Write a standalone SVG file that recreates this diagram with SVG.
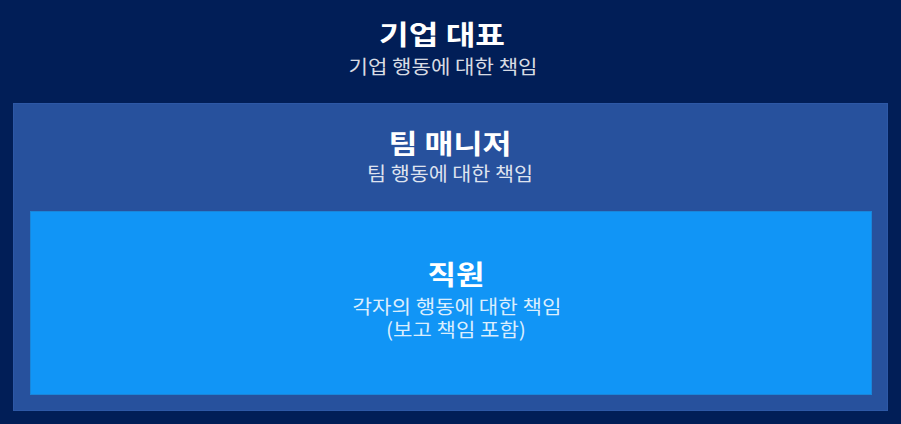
<svg xmlns="http://www.w3.org/2000/svg" width="901" height="424" viewBox="0 0 901 424">
<style>
.t{font-family:"Noto Sans CJK KR","Noto Sans",sans-serif;font-weight:700;font-size:27px;fill:#ffffff;text-anchor:middle}
.s{font-family:"Noto Sans CJK KR","Noto Sans",sans-serif;font-weight:400;font-size:19.5px;fill:#ffffff;fill-opacity:0.86;text-anchor:middle}
</style>
<rect x="0" y="0" width="901" height="424" fill="#011E57"/>
<g id="ceo">
<text class="t" x="442" y="45" textLength="126" lengthAdjust="spacingAndGlyphs">기업 대표</text>
<text class="s" x="443" y="74" textLength="189" lengthAdjust="spacingAndGlyphs">기업 행동에 대한 책임</text>
</g>
<g id="manager">
<rect x="13.5" y="103.5" width="874" height="307" fill="#27519D" stroke="#2D58A6" stroke-width="1"/>
<text class="t" x="450" y="154" textLength="123" lengthAdjust="spacingAndGlyphs">팀 매니저</text>
<text class="s" x="450" y="181" textLength="166" lengthAdjust="spacingAndGlyphs">팀 행동에 대한 책임</text>
</g>
<g id="employee">
<rect x="30.5" y="211.5" width="841" height="183" fill="#1195F6" stroke="#1A86DA" stroke-width="1"/>
<text class="t" x="456" y="285" textLength="57" lengthAdjust="spacingAndGlyphs">직원</text>
<text class="s" x="457" y="314" textLength="209" lengthAdjust="spacingAndGlyphs">각자의 행동에 대한 책임</text>
<text class="s" x="456" y="337" textLength="140" lengthAdjust="spacingAndGlyphs">(보고 책임 포함)</text>
</g>
<g id="connectors"/>
</svg>
